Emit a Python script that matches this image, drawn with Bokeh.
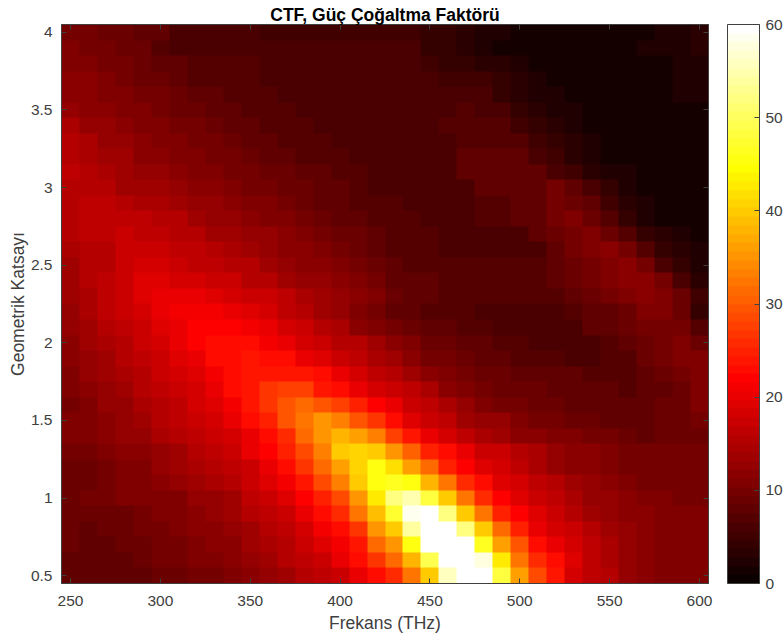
import numpy as np
from bokeh.embed import file_html
from bokeh.resources import INLINE
from bokeh.plotting import figure
from bokeh.models import LinearColorMapper, ColorBar, FixedTicker, LinearAxis, Range1d

title_text = "CTF, Güç Çoğaltma Faktörü"
x_label = "Frekans (THz)"
y_label = "Geometrik Katsayı"
x_ticks = [250, 300, 350, 400, 450, 500, 550, 600]
y_ticks = [0.5, 1, 1.5, 2, 2.5, 3, 3.5, 4]
y_tick_labels = ["0.5", "1", "1.5", "2", "2.5", "3", "3.5", "4"]
cbar_ticks = [0, 10, 20, 30, 40, 50, 60]

# values, top row (4.0) first, columns 250..600 THz
r40 = [10,9.5,8.5,8.5,7.5,7.5,6.5,6.5,6,6,6,5.5,5.5,5.5,5.5,5.5,5.5,5.5, 5.5,5.5,4.5,4,3,2.5,2,1.2,1.2,1.2,1.2,1.2,1.2,1.5,1.5,2.5,2.5,3.5]
r39 = [11,10,10,8.5,8.5,7,6.5,6.5,6.5,6.5,6.3,6.3,6.3,6.3,6.3,6.3,6.3,6.3, 6.3,6.3,4.5,4.5,3,2.5,1.5,1,1,1,1,1,1,1.5,2,2.5,2.5,3.5]
r38 = [11,10.5,10,9.5,8.5,7.5,7.5,6.8,6.8,6.8,6.8,6.3,6.3,6.3,6.3,6.3,6.3,6.3, 6.3,6.3,5.5,4.5,4.5,3.5,3,2,1,1,1,1,1,1,1.5,1.5,2.5,2.5]
r37 = [12,11.5,10.5,10,9,8.5,8,7.3,7.3,6.8,6.8,6.5,6.3,6.3,6.3,6.3,6.3,6.3, 6.3,6.3,6,5.5,5,5,4.5,3,2,1,1,1,1,1,1,1.5,2,2.5]
r36 = [12,11.5,11,10.5,10,9.5,9,8,7.5,7.3,6.8,6.8,6.3,6.3,6.3,6.3,6.3,6.3, 6.3,6.3,6.3,6.3,6,6,4.5,3,2.5,2,1,1,1,1,1,1.5,2,2.5]
r35 = [13,12,11.5,11,10.5,10,9,8.5,8,7.5,7.2,6.8,6.8,6.5,6.3,6.3,6.3,6.3, 6.3,6.3,6.3,6.3,7,6,6,4.5,3,2.5,2,1,1,1,1,1,1.5,1.8]
r34 = [14.5,13,12.5,12,11,10.5,10,9.5,8.5,8,7.5,7.2,6.8,6.8,6.5,6.3,6.3,6.3, 6.3,6.3,6.3,7,7,7,7,5,4,3,2,1,1,1,1,1,1.5,1.8]
r33 = [15,14.5,13,12.5,11.5,11,10.5,10,9.5,9,8,7.5,7.2,7.2,6.8,6.5,6.5,6.3, 6.3,6.3,6.3,6.3,7,7,7,7,5,4,3,2,1,1,1,1,1,1.5]
r32 = [15.5,14.5,14,13.5,12,11.5,11,10.5,10,9.5,8.5,8,7.5,7.2,6.8,6.8,6.5,6.3, 6.3,6.3,6.3,6.3,7.5,7.5,8,8,6,5,3,2.5,1.5,1,1,1,1,1.5]
r31 = [16,15.5,14.5,14,13,12.5,12,11,10.5,10,9.5,9,8.5,8,7.5,7,6.8,6.5, 6.3,6.3,6.3,6.3,7.5,7.5,7.5,8,8,6.5,5,3.5,2.5,2,1,1,1,1]
r30 = [15.5,15.5,15,14,14,13.5,13,12,11.5,10.5,10,9.5,9,8.5,8,7.5,7,6.5, 6.3,6.3,6.3,6.3,6.3,7.5,7.5,8,8,9.5,8,6.5,4,2.5,1.5,1,1,1]
r29 = [15,16.5,16.5,15,14.5,14.5,14,13,12.5,11.5,11,10.5,9.5,9,8,7.5,7,7, 6.8,6.3,6.3,6.3,6.3,7,7,8,8,9.5,9,8,5.5,3.5,2,1,1,1]
r28 = [15,16.5,16.5,16.5,16.5,15.5,15,14,13,12.5,12,11,10.5,9.5,9,8,7.5,7, 6.8,6.8,6.3,6.3,6.3,7,7,7.5,8,9.5,10.5,9,7,4.5,2.5,1.5,1,1]
r27 = [15,16,16,17.5,16,16,15.5,15,14,13.5,13,12.5,11.5,11,10,9,8.5,7.5, 6.8,6.8,6.8,6.5,6.5,6.5,6.5,6.5,7.5,8.5,10,11,9,7,4,3,2,1]
r26 = [14.5,15,15.5,17,17,17,16.5,16,15,14.5,14,13,12,11.5,11,10,9,8, 7,7,7,6.5,6.5,6.5,6.5,6.5,6.5,8,9.5,11,12,9.5,7,4,3,2]
r25 = [14,15,15.5,17,18.5,18.5,17,16.5,16,15.5,15,14,13,12,11.5,10.5,9.5,8.5, 7.5,6.8,6.8,6.8,6.8,6.8,6.8,6.8,6.8,8,8.5,10,11,12,9.5,6.5,4,2.5]
r24 = [13.5,15,16,17.5,19,19,18,18,17,17,15.5,15,14,13,12.5,11.5,10.5,9.5, 8,7.5,7.5,7,6.8,6.8,6.8,6.8,6.8,7.5,8.5,10,11,12,12,9.5,6,3]
r23 = [13.5,14.5,16,17,19,20,20,20,19,18.5,17.5,17,16,14.5,13.5,12.5,11.5,10.5, 8.5,7.5,7.5,7,7,7,7,7,7,7,7.5,9,10,11,12,11,9,5]
r22 = [13,14.5,16,17,18,20,21,21,21,20,19,18,16.5,15,14,12.5,11,10, 8,7.5,7,7,7,6.5,6.5,6.5,6.5,6.5,7,7.5,8,9,10.5,10.5,9,4.5]
r21 = [12.5,14,15.5,16,17.5,19,20,22,22,22,21,20,18,17,15,14.5,12,11, 9.5,8.5,7.5,7.5,7,7,6.5,6.5,6.5,6.5,6.5,7.5,7.5,8.5,9.5,10,10,7]
r20 = [12,13.5,14.5,15.5,17,18,20,22,22.5,22.5,22.5,21.5,20.5,18.5,17,15.5,15,13.5, 12,10.5,9,8.5,8,7.5,7,7,6.5,6.5,6.5,6.5,7,7.5,9,10,10.5,9]
r19 = [11.5,13,14,15,16,17.5,19,20.5,22.5,23,23.5,23,22.5,20.5,19,17.5,16,14.5, 13.5,12,10,9.5,8.5,8,7.5,7,7,7,6.5,6.5,7,7,8.5,9.5,10.5,11]
r18 = [11,12.5,13.5,14.5,15.5,17,18,19.5,21,23,24,24,24,24,22.5,20,18,16.5, 15.5,14,12,11,10,9,8.5,8,7.5,7.5,7.5,7,7,7,8,8.5,10,11]
r17 = [10.5,12,13,13.5,15,16.5,17,18.5,20,22.5,24,27,28,28,24,22.5,20,18.5, 17.5,16,14.5,12,10.5,9.5,9,9,8.5,8,7.5,7.5,7.5,7,7.5,8,9,11]
r16 = [10,11,12.5,13,14.5,15.5,16.5,18,19.5,21.5,24,27,29.5,31,29.5,28,25,22, 20,17.5,16,14.5,13,10.5,10,9.5,9,8.5,8,7.5,7.5,7.5,7.5,8.5,9,10.5]
r15 = [10.5,11,12,13,14,15,16,17.5,18.5,20,22.5,25,29.5,32,35,33.5,29.5,27, 22.5,19.5,17.5,16,14,13,12.5,11,10,9.5,9,9,8,8,8,9,9,9.5]
r14 = [10.5,10.5,11.5,12.5,13,14.5,15,16,17,18.5,20,22.5,26,31,35,38,36,33, 28,24,20,18,16,14.5,14,12,11.5,10.5,10.5,9.5,9.5,9,8,9,9,9]
r13 = [9.5,10,10.5,11.5,12,13,13.5,15,16,17,20,22,25,29,33.5,40,41,40, 35,30,25,22.5,20.5,17.5,17.5,15,14.5,13,12,11.5,10.5,10,9.5,9.5,9.5,9.5]
r12 = [9,9,10,10.5,11,12.5,13.5,14.5,15.5,16,17.5,20,22.5,26.5,31.5,36,41,45, 42,36,31,25,22,19,18,16,14.5,13,12,11.5,11,10,9.5,9.5,9.5,9.5]
r11 = [9,9,10,10.5,11,11.5,12.5,13.5,14.5,15.5,17,19,21,24,29,33.5,40,45, 46.5,45,38,32,26,22.5,19,18,16.5,15,13.5,12.5,12,11,10,10,10,10]
r10 = [9,9.5,9.5,10.5,10.5,11,11,12.5,13,14,16,17,19,22,24.5,29,35,43, 52,55,48,40,32,26,22,19.5,17.5,16,14.5,13,12.5,11.5,11,11,10,10]
r09 = [8.5,9,9,9,10,10.5,11,12,12.5,13.5,15,16,17.5,20,22.5,25.5,32,39, 47,59,60,52,40,32,25,22,19,17.5,15,13.5,13,12,11.5,11,10.5,10.5]
r08 = [8.5,8,9,9,9.5,10,10.5,11.5,12,13,14,15,16.5,18,21,23,27,35, 40,54,60,60,52,40,31,25,20.5,18.5,17,15,14,12.5,12,11,10.5,10.5]
r07 = [8.5,8,8,8.5,9,9.5,10,11,11.5,12,13.5,14.5,15.5,17.5,19,21.5,24,31, 35,45,60,60,60,46,36,29.5,22.5,20,18,16,14.5,13,12,11,10.5,10.5]
r06 = [8,8,8,8,9,9.5,10,10.5,11,12,13,14,15,16.5,17.5,20,22.5,27, 31,38,49,60,60,58,43,32,26,22.5,19,16,14.5,13,12,11,10.5,10.5]
r05 = [7.5,8,8,8,8,8.5,9,9.5,10,10.5,12,12.5,14,15,16.5,17.5,20,23, 26,32,40,56,60,60,48,36,29,23.5,18,16,15,13,12,11,10.5,10.5]

rows = [r40,r39,r38,r37,r36,r35,r34,r33,r32,r31,r30,r29,r28,r27,r26,r25,r24,r23,
        r22,r21,r20,r19,r18,r17,r16,r15,r14,r13,r12,r11,r10,r09,r08,r07,r06,r05]
Z = np.array(rows, dtype=float)[::-1]

# MATLAB "hot" colormap, 64 levels
def hot(n=64):
    m = int(np.floor(3 / 8 * n))
    r = np.r_[np.arange(1, m + 1) / m, np.ones(n - m)]
    g = np.r_[np.zeros(m), np.arange(1, m + 1) / m, np.ones(n - 2 * m)]
    b = np.r_[np.zeros(2 * m), np.arange(1, n - 2 * m + 1) / (n - 2 * m)]
    return ["#%02x%02x%02x" % (round(a * 255), round(c * 255), round(d * 255)) for a, c, d in zip(r, g, b)]

FONT = "Liberation Sans"
GRAY = "#404040"
mapper = LinearColorMapper(palette=hot(), low=0, high=60)

p = figure(width=792, height=648, frame_width=647, frame_height=559,
           x_range=Range1d(245, 605), y_range=Range1d(0.45, 4.05),
           output_backend="svg", toolbar_location=None,
           min_border_left=69, min_border_right=84, min_border_top=32, min_border_bottom=0,
           title=title_text, x_axis_label=x_label, y_axis_label=y_label)
p.margin = (-8, -8, -8, -8)
p.background_fill_color = "white"
p.grid.visible = False
p.outline_line_color = GRAY
p.image(image=[Z], x=245, y=0.45, dw=360, dh=3.6, color_mapper=mapper)

p.title.text_font = FONT
p.title.text_font_size = "17.5px"
p.title.text_font_style = "bold"
p.title.text_color = "black"
p.title.align = "center"
p.title.offset = 0
p.title.standoff = 0

for ax, ticks in ((p.xaxis[0], x_ticks), (p.yaxis[0], y_ticks)):
    ax.ticker = FixedTicker(ticks=ticks)
    ax.major_tick_in = 5
    ax.major_tick_out = 0
    ax.minor_tick_line_color = None
    ax.major_tick_line_color = GRAY
    ax.axis_line_color = GRAY
    ax.major_label_text_font = FONT
    ax.major_label_text_font_size = "15.5px"
    ax.major_label_text_color = GRAY
    ax.axis_label_text_font = FONT
    ax.axis_label_text_font_size = "17.5px"
    ax.axis_label_text_font_style = "normal"
    ax.axis_label_text_color = GRAY
p.yaxis[0].major_label_overrides = dict(zip(y_ticks, y_tick_labels))
p.xaxis[0].major_label_standoff = 12
p.yaxis[0].major_label_standoff = 9
p.xaxis[0].axis_label_standoff = 4
p.yaxis[0].axis_label_standoff = 0

for side, ticks in (("above", x_ticks), ("right", y_ticks)):
    a = LinearAxis(ticker=FixedTicker(ticks=ticks), major_tick_in=5, major_tick_out=0,
                   minor_tick_line_color=None, major_tick_line_color=GRAY,
                   axis_line_color=GRAY, major_label_text_color=None,
                   major_label_text_font_size="0px", major_label_standoff=0)
    p.add_layout(a, side)

cb = ColorBar(color_mapper=mapper, width=32, height=559, padding=0, margin=0,
              location=(666, 0),
              ticker=FixedTicker(ticks=cbar_ticks), major_tick_in=5, major_tick_out=0,
              major_tick_line_color=GRAY, minor_tick_line_color=None,
              bar_line_color=GRAY, border_line_color=None, background_fill_color=None,
              major_label_text_font=FONT, major_label_text_font_size="15.5px",
              major_label_text_color=GRAY, label_standoff=6)
p.add_layout(cb)

open("out.html", "w").write(file_html(p, INLINE))
